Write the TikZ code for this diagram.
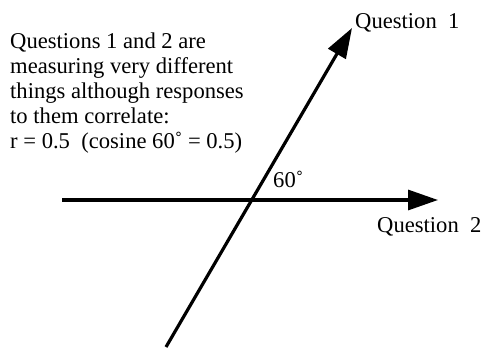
\documentclass[tikz,border=0pt]{standalone}
\usepackage{fontspec}
\setmainfont{Liberation Serif}
\usetikzlibrary{arrows.meta}
\begin{document}
\begin{tikzpicture}[x=1pt,y=-1pt,
  axisline/.style={line width=3.2pt,-{Triangle[length=30pt,width=20pt]}},
  txt/.style={inner sep=0pt,anchor=base west,font=\fontsize{22.6}{25}\selectfont}]
\useasboundingbox (0,0) rectangle (488,349);
\coordinate (q2start) at (62,200);
\coordinate (q2end) at (438,200);
\coordinate (q1start) at (166,347);
\coordinate (q1end) at (352,28);
\draw[axisline] (q2start) -- (q2end);
\draw[axisline] (q1start) -- (q1end);
\node[txt] (l1) at (10,48) {Questions 1 and 2 are};
\node[txt] (l2) at (10,73) {measuring very different};
\node[txt] (l3) at (10,98) {things although responses};
\node[txt] (l4) at (10,123) {to them correlate:};
\node[txt] (l5) at (10,148) {r = 0.5\ \ (cosine 60˚ = 0.5)};
\node[txt] (q1lab) at (355,28) {Question\ \ 1};
\node[txt] (q2lab) at (377,232) {Question\ \ 2};
\node[txt] (ang) at (273,187) {60˚};
\end{tikzpicture}
\end{document}
